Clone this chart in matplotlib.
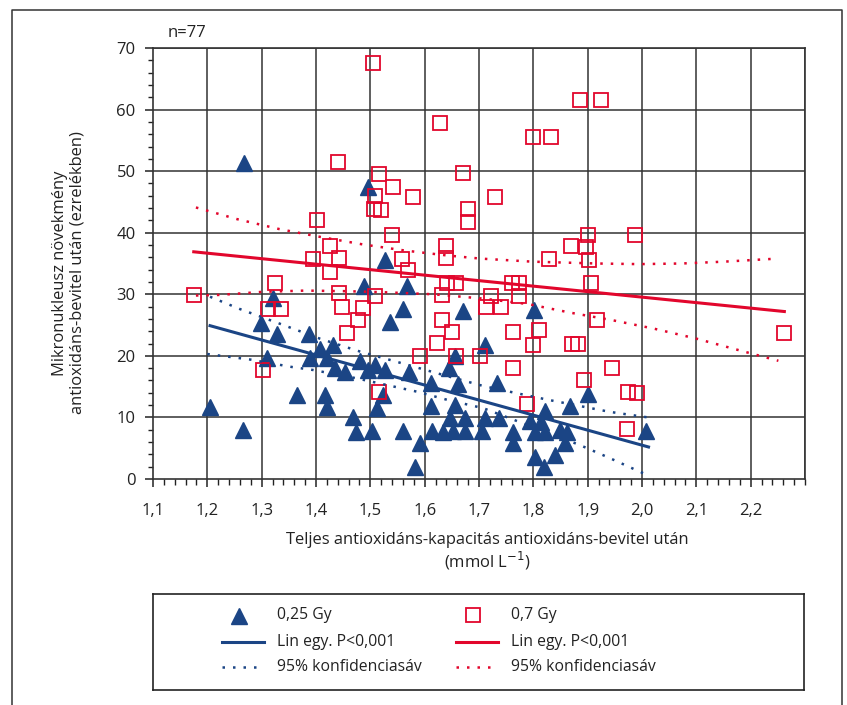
import numpy as np
import matplotlib.pyplot as plt
from matplotlib.ticker import FixedLocator, MultipleLocator, FuncFormatter

plt.rcParams['font.family'] = ['Open Sans', 'DejaVu Sans']

BLUE = '#1b4585'
RED = '#e2062c'
GRID = '#333333'

# 0,25 Gy (triangles)
x_025 = [1.268, 1.496, 1.527, 1.488, 1.568, 1.320, 1.561, 1.671, 1.537, 1.298,
         1.328, 1.388, 1.711, 1.431, 1.407, 1.309, 1.389, 1.420, 1.655, 1.481,
         1.509, 1.435, 1.453, 1.496, 1.527, 1.572, 1.644, 1.612, 1.662, 1.365,
         1.417, 1.524, 1.420, 1.512, 1.612, 1.656, 1.205, 1.266, 1.469, 1.647,
         1.674, 1.711, 1.474, 1.503, 1.561, 1.613, 1.634, 1.653, 1.674, 1.705,
         1.591, 1.582, 1.802, 1.734, 1.736, 1.762, 1.763, 1.793, 1.822, 1.815,
         1.803, 1.821, 1.849, 1.862, 1.858, 1.803, 1.840, 1.820, 1.867, 1.900,
         2.007]
y_025 = [51.4, 47.5, 35.6, 31.3, 31.3, 29.4, 27.6, 27.3, 25.5, 25.4,
         23.6, 23.6, 21.8, 21.7, 21.1, 19.6, 19.7, 19.6, 19.9, 19.1,
         18.5, 18.0, 17.4, 17.7, 17.7, 17.4, 18.0, 15.6, 15.4, 13.6,
         13.6, 13.6, 11.7, 11.5, 11.9, 12.0, 11.7, 8.0, 10.0, 9.9,
         9.9, 9.9, 7.7, 7.8, 7.8, 7.8, 7.7, 7.8, 7.8, 7.8,
         5.8, 2.0, 27.4, 15.6, 9.9, 7.7, 5.8, 9.4, 11.1, 9.3,
         7.7, 7.7, 8.0, 7.7, 5.8, 3.6, 3.9, 1.9, 11.9, 13.8,
         7.8]

# 0,7 Gy (open squares)
x_07 = [1.175, 1.302, 1.311, 1.324, 1.336, 1.395, 1.402, 1.426, 1.426, 1.440,
        1.442, 1.442, 1.448, 1.457, 1.477, 1.487, 1.504, 1.507, 1.509, 1.509,
        1.516, 1.516, 1.520, 1.539, 1.542, 1.558, 1.570, 1.579, 1.591, 1.622,
        1.628, 1.632, 1.632, 1.639, 1.639, 1.642, 1.650, 1.658, 1.658, 1.670,
        1.680, 1.680, 1.701, 1.712, 1.722, 1.730, 1.740, 1.760, 1.763, 1.763,
        1.774, 1.774, 1.788, 1.800, 1.800, 1.811, 1.829, 1.833, 1.870, 1.872,
        1.883, 1.885, 1.894, 1.897, 1.900, 1.903, 1.906, 1.917, 1.925, 1.945,
        1.972, 1.974, 1.988, 1.990, 2.262]
y_07 = [29.9, 17.7, 27.6, 31.9, 27.6, 35.7, 42.0, 37.8, 33.7, 51.5,
        35.9, 30.2, 27.9, 23.7, 25.8, 27.7, 67.5, 43.9, 45.9, 29.7,
        49.5, 14.1, 43.7, 39.7, 47.5, 35.8, 34.0, 45.8, 20.0, 22.1,
        57.8, 29.9, 25.9, 37.9, 35.9, 31.8, 23.9, 31.8, 20.0, 49.7,
        43.9, 41.7, 20.0, 28.0, 29.7, 45.8, 28.0, 31.8, 23.8, 18.1,
        31.8, 29.7, 12.2, 55.5, 21.8, 24.2, 35.7, 55.5, 37.8, 22.0,
        21.9, 61.6, 16.0, 37.6, 39.7, 35.6, 31.9, 25.9, 61.6, 18.1,
        8.2, 14.1, 39.6, 13.9, 23.7]

# regression lines and 95% bands
fit_025_x = [1.205, 2.012]
fit_025_y = [24.9, 5.2]
ci_025_hi_x = [1.205, 1.260, 1.334, 1.407, 1.481, 1.558, 1.634, 1.708, 1.766, 1.825, 1.883, 1.941, 2.019]
ci_025_hi_y = [29.6, 27.6, 25.2, 22.8, 20.7, 18.8, 16.9, 15.1, 14.0, 12.9, 11.9, 10.9, 9.9]
ci_025_lo_x = [1.200, 1.279, 1.355, 1.395, 1.472, 1.549, 1.585, 1.644, 1.708, 1.886, 1.938, 1.993, 2.010]
ci_025_lo_y = [20.3, 19.4, 18.2, 17.7, 16.4, 14.9, 14.2, 12.8, 11.5, 5.5, 3.5, 1.3, 0.65]

fit_07_x = [1.175, 2.262]
fit_07_y = [36.9, 27.2]
ci_07_hi_x = [1.179, 1.255, 1.332, 1.409, 1.486, 1.564, 1.642, 1.702, 1.798, 1.917, 1.995, 2.073, 2.151, 2.250]
ci_07_hi_y = [44.1, 42.2, 40.6, 39.3, 38.1, 37.1, 36.3, 35.8, 35.3, 35.0, 34.9, 35.0, 35.3, 35.8]
ci_07_lo_x = [1.179, 1.223, 1.302, 1.380, 1.459, 1.536, 1.616, 1.708, 1.791, 1.869, 1.945, 2.023, 2.100, 2.175, 2.251]
ci_07_lo_y = [29.8, 29.9, 30.4, 30.6, 30.5, 30.3, 30.0, 29.3, 28.4, 27.0, 25.8, 24.4, 22.8, 21.0, 19.2]

x_ticks = [1.1, 1.2, 1.3, 1.4, 1.5, 1.6, 1.7, 1.8, 1.9, 2.0, 2.1, 2.2]
y_ticks = [0, 10, 20, 30, 40, 50, 60, 70]

W, H = 847, 705
fig = plt.figure(figsize=(W / 100, H / 100), dpi=100)

def fx(px):
    return px / W

def fy(py):
    return 1 - py / H

ax = fig.add_axes([fx(153), fy(479), (805 - 153) / W, (479 - 48) / H])
ax.set_xlim(1.1, 2.3)
ax.set_ylim(0, 70)

for v in x_ticks[1:] + [2.3]:
    ax.axvline(v, color=GRID, lw=1.1, zorder=0)
for v in y_ticks[1:]:
    ax.axhline(v, color=GRID, lw=1.1, zorder=0)

dots = (0, (1, 3.2))
ax.plot(x_025, y_025, ls='none', marker='^', ms=11, color=BLUE, mec=BLUE, zorder=2)
ax.plot(x_07, y_07, ls='none', marker='s', ms=9.5, mfc='none', mec=RED, mew=1.3, zorder=3)
ax.plot(fit_025_x, fit_025_y, color=BLUE, lw=2.2, zorder=4)
ax.plot(ci_025_hi_x, ci_025_hi_y, color=BLUE, lw=1.8, ls=dots, zorder=4)
ax.plot(ci_025_lo_x, ci_025_lo_y, color=BLUE, lw=1.8, ls=dots, zorder=4)
ax.plot(fit_07_x, fit_07_y, color=RED, lw=2.2, zorder=4)
ax.plot(ci_07_hi_x, ci_07_hi_y, color=RED, lw=1.8, ls=dots, zorder=4)
ax.plot(ci_07_lo_x, ci_07_lo_y, color=RED, lw=1.8, ls=dots, zorder=4)

ax.xaxis.set_major_locator(FixedLocator(x_ticks))
ax.xaxis.set_minor_locator(MultipleLocator(0.02))
ax.yaxis.set_major_locator(FixedLocator(y_ticks))
ax.yaxis.set_minor_locator(MultipleLocator(2))
ax.xaxis.set_major_formatter(FuncFormatter(lambda v, p: f"{v:.1f}".replace('.', ',')))
ax.tick_params(axis='x', which='major', direction='out', length=6, width=1.1, pad=11, labelsize=12, colors='#222222')
ax.tick_params(axis='x', which='minor', direction='out', length=4, width=1.0, colors='#222222')
ax.tick_params(axis='y', which='major', direction='out', length=5.5, width=1.1, pad=7, labelsize=12, colors='#222222')
ax.tick_params(axis='y', which='minor', direction='out', length=3.5, width=1.0, colors='#222222')
for s in ax.spines.values():
    s.set_color(GRID)
    s.set_linewidth(1.2)

fig.text(fx(168), fy(33), 'n=77', fontsize=12, va='center', ha='left', color='#222222')
fig.text(fx(69), fy(273), 'Mikronukleusz növekmény\nantioxidáns-bevitel után (ezrelékben)',
         rotation=90, fontsize=11.9, ha='center', va='center', linespacing=1.15, color='#222222')
fig.text(fx(487), fy(552), 'Teljes antioxidáns-kapacitás antioxidáns-bevitel után\n(mmol L$^{-1}$)',
         fontsize=11.9, ha='center', va='center', linespacing=1.15, color='#222222')

# legend box
lax = fig.add_axes([fx(153), fy(690), (804 - 153) / W, (690 - 594) / H])
lax.set_xlim(153, 804)
lax.set_ylim(690, 594)
lax.set_xticks([])
lax.set_yticks([])
for s in lax.spines.values():
    s.set_color('#222222')
    s.set_linewidth(1.2)

labels_025 = ['0,25 Gy', 'Lin egy. P<0,001', '95% konfidenciasáv']
labels_07 = ['0,7 Gy', 'Lin egy. P<0,001', '95% konfidenciasáv']
rows = [615, 642, 667]
for x0, col, labels, mk in [(222, BLUE, labels_025, '^'), (456, RED, labels_07, 's')]:
    if mk == '^':
        lax.plot([x0 + 17], [rows[0] + 1], marker='^', ms=11, color=col, ls='none')
    else:
        lax.plot([x0 + 17], [rows[0]], marker='s', ms=9.5, mfc='none', mec=col, mew=1.3, ls='none')
    lax.plot([x0, x0 + 42], [rows[1], rows[1]], color=col, lw=2.2)
    lax.plot([x0, x0 + 42], [rows[2], rows[2]], color=col, lw=1.8, ls=dots)
    for r, t in zip(rows, labels):
        lax.text(x0 + 55, r, t, fontsize=11.3, va='center', ha='left', color='#222222')

# outer frame, open at the bottom
fig.add_artist(plt.Line2D([fx(12), fx(12), fx(842), fx(842)], [0, fy(10), fy(10), 0],
                          color='#333333', lw=1.1))

fig.savefig('out.png', dpi=100)
